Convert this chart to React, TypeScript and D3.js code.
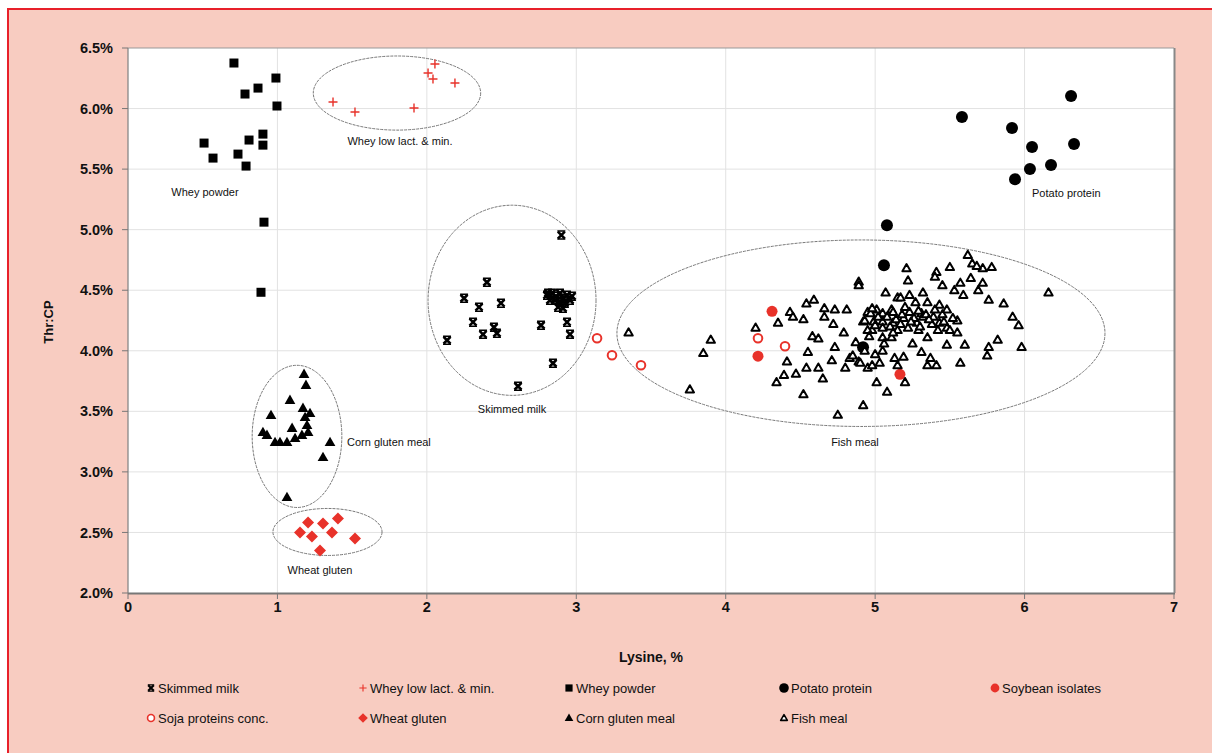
import React from "react";
import * as d3 from "d3";

type Pt = [number, number];

// Lysine (%) vs Thr:CP (%)
const skimmedMilk: Pt[] = [
  [2.9, 4.955], [2.402, 4.566], [2.249, 4.434], [2.349, 4.36], [2.496, 4.393],
  [2.309, 4.236], [2.376, 4.136], [2.449, 4.194], [2.469, 4.145], [2.135, 4.087],
  [2.764, 4.211], [2.938, 4.236], [2.958, 4.136], [2.844, 3.897], [2.61, 3.707],
  [2.804, 4.459], [2.837, 4.475], [2.864, 4.45], [2.891, 4.475], [2.911, 4.434],
  [2.938, 4.459], [2.958, 4.417], [2.858, 4.417], [2.891, 4.401], [2.924, 4.393],
  [2.824, 4.417], [2.878, 4.36], [2.911, 4.351], [2.971, 4.45], [2.811, 4.475],
];
const wheyLowLact: Pt[] = [
  [1.372, 6.054], [1.519, 5.971], [1.914, 6.004], [2.008, 6.293], [2.054, 6.368],
  [2.041, 6.244], [2.188, 6.211],
];
const wheyPowder: Pt[] = [
  [0.709, 6.376], [0.99, 6.252], [0.783, 6.12], [0.87, 6.169], [0.997, 6.021],
  [0.509, 5.715], [0.569, 5.591], [0.736, 5.624], [0.81, 5.74], [0.903, 5.789],
  [0.903, 5.698], [0.79, 5.525], [0.91, 5.062], [0.89, 4.483],
];
const potatoProtein: Pt[] = [
  [5.581, 5.93], [5.916, 5.839], [6.05, 5.682], [6.311, 6.103], [6.331, 5.707],
  [6.177, 5.533], [6.036, 5.5], [5.936, 5.417], [5.079, 5.037], [5.059, 4.707],
  [4.919, 4.029],
];
const soybeanIsolates: Pt[] = [[4.31, 4.326], [4.216, 3.955], [5.166, 3.806]];
const sojaProteins: Pt[] = [
  [3.139, 4.103], [3.239, 3.963], [3.433, 3.88], [4.216, 4.103], [4.397, 4.037],
];
const wheatGluten: Pt[] = [
  [1.205, 2.583], [1.305, 2.574], [1.405, 2.616], [1.151, 2.5], [1.231, 2.467],
  [1.365, 2.5], [1.519, 2.45], [1.285, 2.351],
];
const cornGlutenMeal: Pt[] = [
  [1.178, 3.806], [1.191, 3.715], [1.084, 3.591], [0.957, 3.467], [1.171, 3.525],
  [1.185, 3.45], [1.198, 3.384], [0.903, 3.326], [1.098, 3.36], [1.205, 3.326],
  [1.164, 3.302], [0.984, 3.244], [1.017, 3.244], [1.064, 3.244], [1.118, 3.277],
  [1.352, 3.244], [1.305, 3.12], [1.064, 2.789], [0.93, 3.302], [1.218, 3.483],
];
const fishMeal: Pt[] = [
  [3.35, 4.15], [3.9, 4.09], [3.85, 3.98], [3.76, 3.68], [4.2, 4.19], [4.35, 4.23],
  [4.43, 4.32], [4.45, 4.28], [4.52, 4.26], [4.54, 4.39], [4.59, 4.42], [4.66, 4.35],
  [4.73, 4.34], [4.81, 4.34], [4.66, 4.28], [4.72, 4.22], [4.79, 4.15], [4.58, 4.12],
  [4.62, 4.1], [4.55, 3.99], [4.41, 3.91], [4.47, 3.81], [4.39, 3.8], [4.34, 3.74],
  [4.54, 3.86], [4.62, 3.86], [4.65, 3.77], [4.71, 3.92], [4.73, 4.03], [4.8, 3.86],
  [4.83, 3.94], [4.89, 3.91], [4.95, 3.86], [4.52, 3.64], [4.92, 3.55], [4.75, 3.47],
  [4.89, 4.57], [5.07, 4.48], [4.95, 4.32], [5.01, 4.34], [5.11, 4.34], [4.92, 4.24],
  [4.99, 4.24], [5.05, 4.24], [5.12, 4.23], [4.98, 4.17], [5.05, 4.11], [5.11, 4.11],
  [4.85, 3.96], [5.0, 3.97], [5.03, 3.9], [5.01, 3.74], [5.08, 3.66], [5.15, 3.88],
  [5.15, 4.44], [5.62, 4.79], [5.72, 4.68], [5.78, 4.69], [5.65, 4.72], [5.21, 4.68],
  [5.22, 4.58], [5.41, 4.65], [5.4, 4.61], [5.5, 4.69], [4.89, 4.54], [5.17, 4.44],
  [5.23, 4.46], [5.32, 4.48], [5.45, 4.54], [5.57, 4.56], [5.64, 4.6], [5.59, 4.46],
  [5.53, 4.5], [5.69, 4.5], [5.72, 4.56], [5.76, 4.42], [5.86, 4.39], [5.92, 4.28],
  [5.96, 4.21], [6.16, 4.48], [5.98, 4.03], [5.82, 4.09], [5.76, 4.03], [5.75, 3.96],
  [5.6, 4.05], [5.48, 4.05], [5.55, 4.15], [5.55, 4.25], [5.48, 4.34], [5.43, 4.38],
  [5.35, 4.4], [5.31, 4.31], [5.23, 4.32], [5.19, 4.27], [5.12, 4.32], [5.05, 4.31],
  [4.97, 4.31], [4.93, 4.25], [5.0, 4.21], [5.05, 4.19], [5.15, 4.17], [5.22, 4.19],
  [5.29, 4.17], [5.35, 4.11], [5.42, 4.17], [5.48, 4.19], [5.52, 4.27], [5.25, 4.06],
  [5.31, 3.99], [5.37, 3.94], [5.35, 3.88], [5.41, 3.88], [5.57, 3.9], [5.19, 3.95],
  [5.13, 3.94], [5.05, 4.0], [4.98, 3.88], [4.9, 3.9], [5.2, 3.74], [5.32, 4.28],
  [5.39, 4.28], [5.28, 4.23], [5.43, 4.23], [5.5, 4.17], [4.95, 4.17], [4.87, 4.07],
  [5.08, 4.28], [5.14, 4.26], [5.18, 4.3], [5.26, 4.27], [5.29, 4.33], [5.34, 4.3],
  [5.38, 4.22], [5.45, 4.3], [5.02, 4.28], [5.1, 4.2], [5.17, 4.22], [5.24, 4.24],
  [5.3, 4.2], [5.36, 4.26], [5.2, 4.36], [5.27, 4.4], [4.98, 4.35], [5.4, 4.34],
  [5.46, 4.24], [5.12, 4.15], [5.06, 4.06], [4.93, 4.0], [4.96, 4.12], [5.68, 4.7],
];

// group outlines: [cx, cy, rx, ry] in data units
const groupEllipses: [number, number, number, number][] = [
  [1.8, 6.128, 0.56, 0.306],
  [2.57, 4.417, 0.562, 0.785],
  [1.131, 3.293, 0.3, 0.587],
  [1.335, 2.504, 0.365, 0.194],
  [4.905, 4.145, 1.633, 0.77],
];
// group labels: [text, x, y, anchor]
const groupLabels: [string, number, number, string][] = [
  ["Whey powder", 0.515, 5.28, "middle"],
  ["Whey low lact. & min.", 1.82, 5.7, "middle"],
  ["Skimmed milk", 2.57, 3.49, "middle"],
  ["Corn gluten meal", 1.466, 3.21, "start"],
  ["Wheat gluten", 1.285, 2.16, "middle"],
  ["Fish meal", 4.865, 3.21, "middle"],
  ["Potato protein", 6.05, 5.27, "start"],
];

const xTicks = [0, 1, 2, 3, 4, 5, 6, 7];
const yTicks = [2.0, 2.5, 3.0, 3.5, 4.0, 4.5, 5.0, 5.5, 6.0, 6.5];

const RED = "#e8322a";
const FONT = "'Liberation Sans', Arial, sans-serif";

const x = d3.scaleLinear().domain([0, 7]).range([128, 1174]);
const y = d3.scaleLinear().domain([2, 6.5]).range([593, 48]);

type Kind = "x" | "plus" | "square" | "circle" | "redcircle" | "opencircle" | "diamond" | "triangle" | "opentriangle";

const tri = d3.symbol().type(d3.symbolTriangle);

function Marker({ kind, cx, cy, k = 1 }: { kind: Kind; cx: number; cy: number; k?: number }) {
  const t = `translate(${cx},${cy}) scale(${k})`;
  switch (kind) {
    case "x":
      return (
        <g transform={t} stroke="#000">
          <path d="M-3.5,-3.5L3.5,3.5M3.5,-3.5L-3.5,3.5" strokeWidth={2.6} />
          <path d="M-4,-4H4M-4,4H4" strokeWidth={1.5} />
        </g>
      );
    case "plus":
      return <path transform={t} d="M-4.5,0H4.5M0,-4.5V4.5" stroke={RED} strokeWidth={1.4} />;
    case "square":
      return <path transform={t} d="M-4.5,-4.5H4.5V4.5H-4.5Z" fill="#000" />;
    case "circle":
      return <circle transform={t} r={6} fill="#000" />;
    case "redcircle":
      return <circle transform={t} r={5.5} fill={RED} />;
    case "opencircle":
      return <circle transform={t} r={4.3} fill="#fff" stroke={RED} strokeWidth={2} />;
    case "diamond":
      return <path transform={t} d="M0,-6L6,0L0,6L-6,0Z" fill={RED} />;
    case "triangle":
      return <path transform={`translate(${cx},${cy + 0.5}) scale(${k})`} d={tri.size(50)()!} fill="#000" />;
    case "opentriangle":
      return (
        <path
          transform={`translate(${cx},${cy + 0.5}) scale(${k})`}
          d={tri.size(30)()!}
          fill="#fff"
          stroke="#000"
          strokeWidth={2}
          strokeLinejoin="round"
        />
      );
  }
}

const series: { name: string; kind: Kind; data: Pt[] }[] = [
  { name: "Skimmed milk", kind: "x", data: skimmedMilk },
  { name: "Whey low lact. & min.", kind: "plus", data: wheyLowLact },
  { name: "Whey powder", kind: "square", data: wheyPowder },
  { name: "Potato protein", kind: "circle", data: potatoProtein },
  { name: "Soybean isolates", kind: "redcircle", data: soybeanIsolates },
  { name: "Soja proteins conc.", kind: "opencircle", data: sojaProteins },
  { name: "Wheat gluten", kind: "diamond", data: wheatGluten },
  { name: "Corn gluten meal", kind: "triangle", data: cornGlutenMeal },
  { name: "Fish meal", kind: "opentriangle", data: fishMeal },
];

const legendCols = [151, 363, 569, 784, 995];
const legendRows = [688, 718];

export default function App() {
  const [x0, x1] = x.range();
  const [yb, yt] = y.range();
  return (
    <svg width={1212} height={753} style={{ position: "absolute", left: 0, top: 0 }} fontFamily={FONT}>
      <rect x={0} y={0} width={1212} height={753} fill="#fff" />
      <rect x={8} y={9} width={1204} height={744} fill="#f8ccc1" />
      <path d="M8,753V9H1212" fill="none" stroke="#e8202a" strokeWidth={2} />

      {/* plot area */}
      <rect x={x0} y={yt} width={x1 - x0} height={yb - yt} fill="#fff" />
      {xTicks.slice(1, -1).map((t) => (
        <line key={"gx" + t} x1={x(t)} x2={x(t)} y1={yt} y2={yb} stroke="#e2e2e2" />
      ))}
      {yTicks.slice(1, -1).map((t) => (
        <line key={"gy" + t} x1={x0} x2={x1} y1={y(t)} y2={y(t)} stroke="#e2e2e2" />
      ))}
      <line x1={x0} x2={x1} y1={yt} y2={yt} stroke="#999" />
      <line x1={x0} x2={x0} y1={yt} y2={yb} stroke="#888" strokeWidth={1.3} />
      <line x1={x0} x2={x1 + 1} y1={yb + 0.5} y2={yb + 0.5} stroke="#777" strokeWidth={2} />
      <line x1={x1 + 0.5} x2={x1 + 0.5} y1={yt} y2={yb} stroke="#888" strokeWidth={2} />

      {/* ticks */}
      {yTicks.map((t) => (
        <g key={"ty" + t}>
          <line x1={x0 - 6} x2={x0} y1={y(t)} y2={y(t)} stroke="#777" />
          <text x={x0 - 15} y={y(t)} dy="0.35em" textAnchor="end" fontSize={14.5} fontWeight="bold" fill="#111">
            {t.toFixed(1)}%
          </text>
        </g>
      ))}
      {xTicks.map((t) => (
        <g key={"tx" + t}>
          <line x1={x(t)} x2={x(t)} y1={yb} y2={yb + 6} stroke="#777" />
          <text x={x(t)} y={yb + 19} textAnchor="middle" fontSize={14.5} fontWeight="bold" fill="#111">
            {t}
          </text>
        </g>
      ))}
      <text x={651} y={662} textAnchor="middle" fontSize={14} fontWeight="bold" fill="#111">
        Lysine, %
      </text>
      <text transform="translate(53,322) rotate(-90)" textAnchor="middle" fontSize={13} fontWeight="bold" fill="#111">
        Thr:CP
      </text>

      {/* group outlines */}
      {groupEllipses.map(([cx, cy, rx, ry], i) => (
        <ellipse
          key={"e" + i}
          cx={x(cx)}
          cy={y(cy)}
          rx={x(rx) - x(0)}
          ry={y(0) - y(ry)}
          fill="none"
          stroke="#777"
          strokeWidth={1}
          strokeDasharray="3,1"
        />
      ))}
      {groupLabels.map(([txt, lx, ly, anchor]) => (
        <text key={txt} x={x(lx)} y={y(ly)} textAnchor={anchor} fontSize={11} fill="#111">
          {txt}
        </text>
      ))}

      {/* points */}
      {series.map((s) => (
        <g key={s.name}>
          {s.data.map(([a, b], i) => (
            <Marker key={i} kind={s.kind} cx={x(a)} cy={y(b)} />
          ))}
        </g>
      ))}

      {/* legend */}
      {series.map((s, i) => {
        const lx = legendCols[i % 5];
        const ly = legendRows[Math.floor(i / 5)];
        return (
          <g key={"lg" + s.name}>
            <Marker kind={s.kind} cx={lx} cy={ly} k={0.8} />
            <text x={lx + 7} y={ly} dy="0.35em" fontSize={13} fill="#111">
              {s.name}
            </text>
          </g>
        );
      })}
    </svg>
  );
}
